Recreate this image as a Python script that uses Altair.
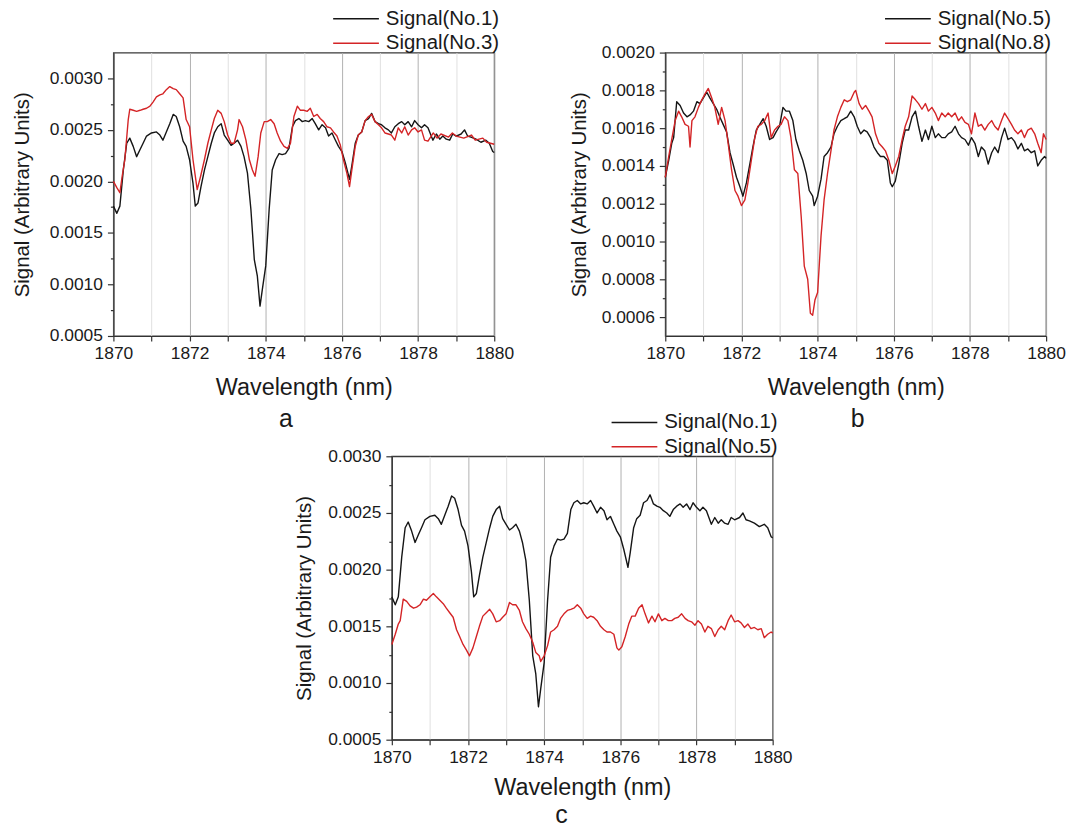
import altair as alt
import pandas as pd

FONT = "Liberation Sans"
BLACK = "#151515"
RED = "#d42426"

# ---- Signal(No.1): wavelength (nm) / signal ----
WL_NO1 = [1870.00, 1870.09, 1870.17, 1870.26, 1870.35, 1870.43, 1870.52, 1870.61, 1870.70, 1870.78, 1870.87,
          1871.00, 1871.13, 1871.22, 1871.30, 1871.39, 1871.48, 1871.57, 1871.65, 1871.74, 1871.83, 1871.91,
          1872.00, 1872.09, 1872.15, 1872.22, 1872.30, 1872.39, 1872.48, 1872.57, 1872.65, 1872.74, 1872.83, 1872.91,
          1873.00, 1873.09, 1873.17, 1873.26, 1873.35, 1873.43, 1873.52, 1873.61, 1873.70, 1873.78, 1873.85, 1873.91,
          1874.00, 1874.09, 1874.17, 1874.26, 1874.35, 1874.43, 1874.52, 1874.61, 1874.70, 1874.78, 1874.87, 1874.96,
          1875.04, 1875.13, 1875.22, 1875.30, 1875.39, 1875.48, 1875.57, 1875.65, 1875.74, 1875.83, 1875.91,
          1876.00, 1876.09, 1876.20, 1876.26, 1876.35, 1876.43, 1876.52, 1876.61, 1876.70, 1876.78, 1876.87, 1876.96,
          1877.04, 1877.13, 1877.22, 1877.30, 1877.39, 1877.48, 1877.57, 1877.65, 1877.74, 1877.83, 1877.91,
          1878.00, 1878.09, 1878.17, 1878.26, 1878.39, 1878.48, 1878.57, 1878.65, 1878.74, 1878.83, 1878.91,
          1879.00, 1879.13, 1879.22, 1879.30, 1879.39, 1879.52, 1879.65, 1879.78, 1879.87, 1879.96,
          1880.00]
SIG_NO1 = [0.00176, 0.00169, 0.00176, 0.00211, 0.00237, 0.00242, 0.00234, 0.00224, 0.00231, 0.00237, 0.00244,
           0.00247, 0.00248, 0.00245, 0.00240, 0.00248, 0.00256, 0.00265, 0.00263, 0.00253, 0.00239, 0.00234,
           0.00221, 0.00198, 0.00176, 0.00179, 0.00195, 0.00211, 0.00224, 0.00237, 0.00247, 0.00253, 0.00256, 0.00245,
           0.00240, 0.00235, 0.00237, 0.00240, 0.00234, 0.00224, 0.00208, 0.00173, 0.00124, 0.00108, 0.00079, 0.00095,
           0.00118, 0.00173, 0.00211, 0.00221, 0.00227, 0.00226, 0.00227, 0.00232, 0.00253, 0.00259, 0.00261, 0.00258,
           0.00259, 0.00258, 0.00261, 0.00256, 0.00250, 0.00255, 0.00252, 0.00244, 0.00247, 0.00240, 0.00234,
           0.00229, 0.00218, 0.00202, 0.00215, 0.00237, 0.00245, 0.00248, 0.00259, 0.00261, 0.00266, 0.00258, 0.00256,
           0.00255, 0.00252, 0.00250, 0.00247, 0.00253, 0.00256, 0.00258, 0.00255, 0.00258, 0.00253, 0.00259,
           0.00255, 0.00252, 0.00255, 0.00252, 0.00240, 0.00246, 0.00241, 0.00244, 0.00241, 0.00240, 0.00246,
           0.00244, 0.00246, 0.00250, 0.00244, 0.00243, 0.00241, 0.00238, 0.00240, 0.00237, 0.00229,
           0.00228]

# ---- Signal(No.3) ----
WL_NO3 = [1870.00, 1870.09, 1870.17, 1870.23, 1870.30, 1870.39, 1870.43, 1870.52, 1870.61, 1870.70, 1870.78, 1870.87, 1870.96,
          1871.04, 1871.13, 1871.22, 1871.30, 1871.39, 1871.48, 1871.57, 1871.65, 1871.74, 1871.83, 1871.91,
          1872.00, 1872.09, 1872.20, 1872.29, 1872.39, 1872.48, 1872.57, 1872.65, 1872.74, 1872.83, 1872.91,
          1873.00, 1873.09, 1873.17, 1873.26, 1873.30, 1873.39, 1873.48, 1873.57, 1873.65, 1873.72, 1873.80, 1873.87, 1873.96,
          1874.04, 1874.13, 1874.22, 1874.30, 1874.39, 1874.48, 1874.57, 1874.65, 1874.74, 1874.83, 1874.91,
          1875.00, 1875.09, 1875.17, 1875.26, 1875.35, 1875.43, 1875.52, 1875.61, 1875.70, 1875.78, 1875.87, 1875.96,
          1876.04, 1876.13, 1876.20, 1876.26, 1876.35, 1876.43, 1876.52, 1876.61, 1876.70, 1876.78, 1876.87, 1876.96,
          1877.04, 1877.13, 1877.22, 1877.30, 1877.39, 1877.48, 1877.57, 1877.65, 1877.74, 1877.83, 1877.91,
          1878.00, 1878.09, 1878.17, 1878.26, 1878.40, 1878.50, 1878.60, 1878.80, 1878.90,
          1879.00, 1879.20, 1879.40, 1879.50, 1879.70, 1879.80,
          1880.00]
SIG_NO3 = [0.00200, 0.00194, 0.00189, 0.00205, 0.00221, 0.00260, 0.00270, 0.00269, 0.00268, 0.00269, 0.00270, 0.00271, 0.00273,
           0.00277, 0.00282, 0.00284, 0.00285, 0.00289, 0.00292, 0.00290, 0.00289, 0.00285, 0.00281, 0.00260,
           0.00253, 0.00221, 0.00192, 0.00205, 0.00221, 0.00237, 0.00250, 0.00261, 0.00269, 0.00266, 0.00258,
           0.00245, 0.00237, 0.00237, 0.00250, 0.00260, 0.00253, 0.00240, 0.00221, 0.00211, 0.00205, 0.00224, 0.00247, 0.00258,
           0.00258, 0.00260, 0.00256, 0.00247, 0.00239, 0.00234, 0.00232, 0.00237, 0.00263, 0.00273, 0.00269,
           0.00269, 0.00268, 0.00271, 0.00263, 0.00265, 0.00261, 0.00258, 0.00253, 0.00252, 0.00248, 0.00244, 0.00235,
           0.00221, 0.00208, 0.00195, 0.00211, 0.00234, 0.00245, 0.00248, 0.00259, 0.00263, 0.00265, 0.00258, 0.00255,
           0.00252, 0.00247, 0.00246, 0.00245, 0.00240, 0.00252, 0.00247, 0.00253, 0.00245, 0.00250, 0.00252,
           0.00248, 0.00250, 0.00240, 0.00239, 0.00247, 0.00242, 0.00246, 0.00243, 0.00247,
           0.00244, 0.00242, 0.00245, 0.00240, 0.00242, 0.00238,
           0.00236]

# ---- Signal(No.5) ----
WL_NO5 = [1870.00, 1870.09, 1870.17, 1870.22, 1870.30, 1870.39, 1870.48, 1870.57, 1870.65, 1870.74, 1870.83, 1870.91,
          1871.00, 1871.09, 1871.17, 1871.26, 1871.35, 1871.43, 1871.52, 1871.61, 1871.70, 1871.78, 1871.87, 1871.96,
          1872.04, 1872.13, 1872.22, 1872.30, 1872.39, 1872.48, 1872.57, 1872.65, 1872.74, 1872.83, 1872.91,
          1873.00, 1873.09, 1873.17, 1873.26, 1873.35, 1873.43, 1873.52, 1873.61, 1873.70, 1873.78, 1873.87, 1873.91,
          1874.00, 1874.09, 1874.17, 1874.26, 1874.35, 1874.43, 1874.52, 1874.61, 1874.70, 1874.78, 1874.87, 1874.96,
          1875.04, 1875.13, 1875.22, 1875.30, 1875.39, 1875.48, 1875.57, 1875.65, 1875.74, 1875.83, 1875.91, 1875.96,
          1876.04, 1876.13, 1876.22, 1876.30, 1876.39, 1876.48, 1876.57, 1876.65, 1876.74, 1876.83, 1876.91,
          1877.00, 1877.09, 1877.17, 1877.26, 1877.35, 1877.43, 1877.52, 1877.61, 1877.70, 1877.78, 1877.87, 1877.96,
          1878.04, 1878.13, 1878.22, 1878.30, 1878.39, 1878.48, 1878.57, 1878.65, 1878.74, 1878.83, 1878.91,
          1879.00, 1879.09, 1879.17, 1879.26, 1879.35, 1879.43, 1879.52, 1879.61, 1879.70, 1879.78, 1879.87, 1879.96,
          1880.00]
SIG_NO5 = [0.00134, 0.00143, 0.00152, 0.00155, 0.00174, 0.00172, 0.00168, 0.00166, 0.00167, 0.00169, 0.00174, 0.00173,
           0.00176, 0.00179, 0.00176, 0.00173, 0.00170, 0.00166, 0.00162, 0.00158, 0.00147, 0.00141, 0.00134, 0.00129,
           0.00124, 0.00131, 0.00141, 0.00150, 0.00159, 0.00162, 0.00165, 0.00161, 0.00154, 0.00155, 0.00158,
           0.00161, 0.00171, 0.00169, 0.00169, 0.00164, 0.00154, 0.00148, 0.00143, 0.00136, 0.00127, 0.00124, 0.00119,
           0.00124, 0.00133, 0.00145, 0.00147, 0.00150, 0.00157, 0.00161, 0.00164, 0.00165, 0.00166, 0.00169, 0.00166,
           0.00161, 0.00157, 0.00159, 0.00158, 0.00155, 0.00150, 0.00147, 0.00145, 0.00145, 0.00143, 0.00131, 0.00129,
           0.00132, 0.00141, 0.00152, 0.00159, 0.00159, 0.00166, 0.00169, 0.00161, 0.00153, 0.00159, 0.00154,
           0.00161, 0.00155, 0.00157, 0.00155, 0.00155, 0.00157, 0.00158, 0.00161, 0.00157, 0.00155, 0.00154, 0.00151,
           0.00155, 0.00152, 0.00145, 0.00150, 0.00148, 0.00141, 0.00147, 0.00150, 0.00147, 0.00155, 0.00160,
           0.00154, 0.00155, 0.00153, 0.00149, 0.00152, 0.00148, 0.00149, 0.00147, 0.00148, 0.00140, 0.00143, 0.00145,
           0.00144]

# ---- Signal(No.8) ----
WL_NO8 = [1870.00, 1870.09, 1870.17, 1870.26, 1870.35, 1870.43, 1870.52, 1870.61, 1870.65, 1870.70, 1870.78, 1870.87, 1870.96,
          1871.04, 1871.13, 1871.22, 1871.30, 1871.39, 1871.48, 1871.57, 1871.65, 1871.74, 1871.83, 1871.91,
          1872.00, 1872.09, 1872.17, 1872.26, 1872.35, 1872.43, 1872.52, 1872.61, 1872.70, 1872.78, 1872.87, 1872.96,
          1873.04, 1873.13, 1873.22, 1873.30, 1873.39, 1873.48, 1873.57, 1873.65, 1873.74, 1873.81, 1873.87, 1873.93,
          1874.00, 1874.09, 1874.17, 1874.26, 1874.35, 1874.43, 1874.52, 1874.61, 1874.70, 1874.78, 1874.87, 1874.96,
          1875.00, 1875.09, 1875.17, 1875.26, 1875.35, 1875.43, 1875.52, 1875.61, 1875.70, 1875.78, 1875.87, 1875.96,
          1876.04, 1876.13, 1876.22, 1876.30, 1876.39, 1876.48, 1876.57, 1876.65, 1876.74, 1876.83, 1876.91,
          1877.00, 1877.09, 1877.17, 1877.26, 1877.35, 1877.43, 1877.52, 1877.61, 1877.70, 1877.78, 1877.87, 1877.96,
          1878.04, 1878.13, 1878.22, 1878.30, 1878.39, 1878.48, 1878.57, 1878.65, 1878.74, 1878.83, 1878.91,
          1879.00, 1879.09, 1879.17, 1879.26, 1879.35, 1879.43, 1879.52, 1879.61, 1879.70, 1879.78, 1879.87, 1879.93,
          1880.00]
SIG_NO8 = [0.00134, 0.00145, 0.00154, 0.00164, 0.00169, 0.00166, 0.00162, 0.00161, 0.00150, 0.00164, 0.00166, 0.00171, 0.00175,
           0.00178, 0.00181, 0.00176, 0.00171, 0.00162, 0.00171, 0.00164, 0.00152, 0.00138, 0.00127, 0.00124,
           0.00119, 0.00122, 0.00131, 0.00143, 0.00155, 0.00161, 0.00162, 0.00164, 0.00168, 0.00155, 0.00159, 0.00161,
           0.00162, 0.00166, 0.00164, 0.00155, 0.00138, 0.00136, 0.00113, 0.00087, 0.00080, 0.00062, 0.00061, 0.00069,
           0.00073, 0.00103, 0.00122, 0.00136, 0.00148, 0.00159, 0.00166, 0.00171, 0.00175, 0.00174, 0.00175, 0.00179,
           0.00180, 0.00173, 0.00170, 0.00172, 0.00169, 0.00166, 0.00157, 0.00152, 0.00150, 0.00148, 0.00143, 0.00136,
           0.00140, 0.00145, 0.00154, 0.00161, 0.00166, 0.00177, 0.00175, 0.00173, 0.00170, 0.00173, 0.00169,
           0.00171, 0.00168, 0.00164, 0.00168, 0.00166, 0.00168, 0.00166, 0.00168, 0.00164, 0.00166, 0.00163, 0.00162,
           0.00157, 0.00168, 0.00161, 0.00162, 0.00159, 0.00162, 0.00164, 0.00161, 0.00159, 0.00164, 0.00168,
           0.00165, 0.00162, 0.00159, 0.00157, 0.00159, 0.00155, 0.00159, 0.00160, 0.00157, 0.00152, 0.00147, 0.00157,
           0.00154]

X_TICKS = list(range(1870, 1881))
Y_TICKS_AC = [0.0005, 0.0010, 0.0015, 0.0020, 0.0025, 0.0030]
Y_MINOR_AC = [0.00075, 0.00125, 0.00175, 0.00225, 0.00275]
Y_TICKS_B = [0.0006, 0.0008, 0.0010, 0.0012, 0.0014, 0.0016, 0.0018, 0.0020]
Y_MINOR_B = [0.0007, 0.0009, 0.0011, 0.0013, 0.0015, 0.0017, 0.0019]


def panel(series, ydomain, yticks, yminor, letter, letter_dx, letter_offset,
          legend_y, ytitle_pad, xtitle_pad):
    frames = []
    for name, wl, sig in series:
        frames.append(pd.DataFrame({"wl": wl, "sig": sig, "series": name}))
    df = pd.concat(frames, ignore_index=True)
    names = [s[0] for s in series]
    xscale = alt.Scale(domain=[1870, 1880], nice=False, zero=False)
    yscale = alt.Scale(domain=ydomain, nice=False, zero=False)

    lines = alt.Chart(df).mark_line(strokeWidth=1.4, strokeJoin="round").encode(
        x=alt.X("wl:Q", scale=xscale,
                axis=alt.Axis(values=X_TICKS, format="d",
                              labelExpr="datum.value % 2 === 0 ? datum.label : ''",
                              title="Wavelength (nm)", grid=True,
                              gridColor={"condition": {"test": "datum.value % 2 === 0", "value": "#b0b0b0"},
                                         "value": "#e0e0e0"},
                              gridWidth=1, tickSize=5, labelPadding=4, titlePadding=xtitle_pad,
                              labelFontSize=17.5, titleFontSize=23.5, titleFontWeight="normal",
                              labelFlush=False)),
        y=alt.Y("sig:Q", scale=yscale,
                axis=alt.Axis(values=yticks, format=".4f", title="Signal (Arbitrary Units)",
                              orient="left", grid=False, tickSize=6, labelPadding=5,
                              titlePadding=ytitle_pad, labelFontSize=17.5, titleFontSize=20.5,
                              titleFontWeight="normal")),
        color=alt.Color("series:N",
                        scale=alt.Scale(domain=names, range=[BLACK, RED]),
                        legend=alt.Legend(title=None, orient="none", legendX=233, legendY=legend_y,
                                          symbolType="M-2.3,0L2.3,0", symbolSize=400,
                                          symbolStrokeWidth=1.5, labelFontSize=20.5, labelFont=FONT,
                                          labelColor="#1a1a1a", labelOffset=19, rowPadding=2.5,
                                          padding=0, labelLimit=300)),
    )
    # minor y ticks (short, unlabeled)
    minor = alt.Chart(df).mark_point(opacity=0).encode(
        y=alt.Y("sig:Q", scale=yscale,
                axis=alt.Axis(values=yminor, orient="left", labels=False, domain=False,
                              grid=False, tickSize=3, title="")),
    )
    return alt.layer(lines, minor).resolve_axis(y="independent").properties(
        width=383, height=285,
        title=alt.TitleParams(letter, orient="bottom", fontSize=25, font=FONT, fontWeight="normal",
                              offset=letter_offset, dx=letter_dx, anchor="middle", color="#1a1a1a"),
    )


pa = panel([("Signal(No.1)", WL_NO1, SIG_NO1), ("Signal(No.3)", WL_NO3, SIG_NO3)],
           [0.0005, 0.00325], Y_TICKS_AC, Y_MINOR_AC, "a", -18, 9, -45, 17, 13)
pb = panel([("Signal(No.5)", WL_NO5, SIG_NO5), ("Signal(No.8)", WL_NO8, SIG_NO8)],
           [0.0005, 0.0020], Y_TICKS_B, Y_MINOR_B, "b", 2, 9, -45, 12, 13)
pc = panel([("Signal(No.1)", WL_NO1, SIG_NO1), ("Signal(No.5)", WL_NO5, SIG_NO5)],
           [0.0005, 0.0030], Y_TICKS_AC, Y_MINOR_AC, "c", -21, 4, -45, 13, 10)

# invisible spacer that shifts panel c to the right (layout only)
SPACER_W = 280
spacer = alt.Chart(pd.DataFrame({"v": [0]})).mark_point(opacity=0).encode(
    x=alt.X("v:Q", axis=None), y=alt.Y("v:Q", axis=None)
).properties(width=SPACER_W, height=10, view=alt.ViewBackground(strokeOpacity=0))

top = alt.hconcat(pa, pb, spacing=172, bounds="flush").resolve_scale(color="independent")
bottom = alt.hconcat(spacer, pc, spacing=0, bounds="flush").resolve_scale(color="independent")


def build(pad_top):
    return alt.vconcat(top, bottom, spacing=-23).resolve_scale(
        color="independent"
    ).properties(
        padding={"left": 3, "top": pad_top, "right": 0, "bottom": 0},
        background="white",
    ).configure_axis(
        domainColor="#333333", tickColor="#333333", labelColor="#1a1a1a", titleColor="#1a1a1a",
        labelFont=FONT, titleFont=FONT, titleFontWeight="normal", domainWidth=1.2, tickWidth=1.2
    ).configure_view(
        stroke="#3a3a3a", strokeWidth=1.3
    )


try:
    chart = build(-3.5)
    chart.save("out.html", embed_options={"renderer": "svg", "actions": False})
except Exception:
    chart = build(0)
    chart.save("out.html", embed_options={"renderer": "svg", "actions": False})
